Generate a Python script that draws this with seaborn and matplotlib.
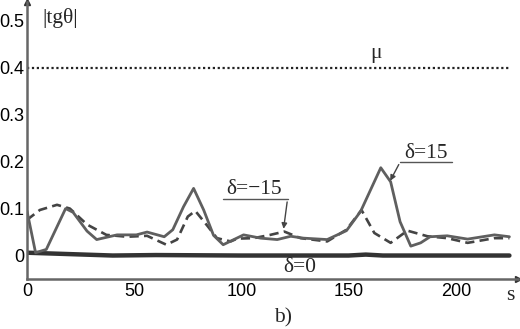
import numpy as np
import pandas as pd
import matplotlib
matplotlib.use("Agg")
import matplotlib.pyplot as plt
import seaborn as sns

# values
s_pos = [0, 4, 9, 18, 21.5, 28, 32.5, 42, 51, 56, 64, 68, 73, 77.7, 82.4, 87, 91.5,
         101, 109, 116.7, 123, 129, 140, 149, 155.6, 165, 169.6, 174, 179, 183.6,
         188, 196, 205.5, 218, 225]
tg_pos = [0.095, 0.006, 0.013, 0.100, 0.092, 0.052, 0.034, 0.044, 0.044, 0.050,
          0.040, 0.055, 0.104, 0.143, 0.097, 0.043, 0.023, 0.044, 0.037, 0.034,
          0.041, 0.037, 0.034, 0.053, 0.094, 0.187, 0.157, 0.072, 0.020, 0.027,
          0.040, 0.042, 0.035, 0.044, 0.040]

s_neg = [0, 6, 14, 20, 28, 37, 46.6, 56, 65, 70, 75, 78.5, 84, 88.6, 95, 98, 105.8,
         113.5, 120, 127.6, 140, 149, 156, 162, 169.6, 177.4, 186.8, 196, 205.5, 218, 225]
tg_neg = [0.076, 0.097, 0.108, 0.100, 0.066, 0.044, 0.040, 0.042, 0.023, 0.034,
          0.083, 0.095, 0.064, 0.037, 0.030, 0.036, 0.037, 0.044, 0.051, 0.037,
          0.030, 0.055, 0.097, 0.048, 0.027, 0.053, 0.041, 0.037, 0.027, 0.037, 0.037]

s_zero = [0, 20, 40, 60, 100, 150, 158, 166, 225]
tg_zero = [0.006, 0.003, 0.0, 0.001, 0.0, 0.0, 0.002, 0.0, 0.0]

mu = 0.4
mu_s = [0, 225]

yticks = [0, 0.1, 0.2, 0.3, 0.4, 0.5]
ytick_labels = ["0", "0.1", "0.2", "0.3", "0.4", "0.5"]
xticks = [0, 50, 100, 150, 200]

sns.set_style("white")
plt.rcParams['font.family'] = ['Liberation Sans', 'DejaVu Sans']

fig = plt.figure(figsize=(5.2, 3.29), dpi=100)
ax = fig.add_axes([27/520, 50/329, 491/520, 277/329])

sns.lineplot(x=s_zero, y=tg_zero, ax=ax, color="#333333", linewidth=3.2)
sns.lineplot(x=s_neg, y=tg_neg, ax=ax, color="#444444", linewidth=1.9, linestyle=(0, (3.5, 2)))
sns.lineplot(x=s_pos, y=tg_pos, ax=ax, color="#5f5f5f", linewidth=2.0)
sns.lineplot(x=mu_s, y=[mu, mu], ax=ax, color="#222222", linewidth=1.6, linestyle=(0, (1, 1.2)))

ax.set_xlim(0, 229)
ax.set_ylim(-0.05, 0.54)

for side in ["top", "right"]:
    ax.spines[side].set_visible(False)
for side in ["left", "bottom"]:
    ax.spines[side].set_color("#666666")
    ax.spines[side].set_linewidth(1.8)

# arrow heads at the axis ends
ax.plot(1, 0, ">", color="#333333", markersize=5, transform=ax.transAxes, clip_on=False)
ax.plot(0, 1, "^", color="#333333", markersize=5, transform=ax.transAxes, clip_on=False)

ax.set_yticks(yticks)
ax.set_yticklabels(ytick_labels)
ax.set_xticks(xticks)
ax.tick_params(axis="both", direction="in", length=4, width=0.8, color="#333333",
               labelsize=13, labelcolor="black")
ax.tick_params(axis="x", pad=3)
ax.tick_params(axis="y", pad=2)

serif = ['Liberation Serif', 'DejaVu Serif']
fs = 15.5
ax.text(7, 0.505, "|tg\u03b8|", family=serif, fontsize=fs, va="center")
ax.text(163, 0.43, "\u03bc", family=serif, fontsize=fs, ha="center", va="center")
ax.text(186, 0.218, "\u03b4=15", family=serif, fontsize=fs, ha="center", va="center")
ax.text(106, 0.14, "\u03b4=\u221215", family=serif, fontsize=fs, ha="center", va="center")
ax.text(127, -0.025, "\u03b4=0", family=serif, fontsize=fs, ha="center", va="center")
fig.text(510/520, 1 - 296/329, "s", family=serif, fontsize=fs, ha="center", va="center")
fig.text(283/520, 1 - 318/329, "b)", family=serif, fontsize=fs, ha="center", va="center")

# leader lines with underlines
ax.plot([174, 198], [0.199, 0.199], color="#555555", linewidth=1)
ax.annotate("", xy=(168.8, 0.154), xytext=(174, 0.199),
            arrowprops=dict(arrowstyle="-|>", color="#444444", lw=1, mutation_scale=8))
ax.plot([91.5, 121.5], [0.12, 0.12], color="#555555", linewidth=1)
ax.annotate("", xy=(119.5, 0.051), xytext=(121.5, 0.12),
            arrowprops=dict(arrowstyle="-|>", color="#444444", lw=1, mutation_scale=8))

fig.savefig("out.png", dpi=100)
